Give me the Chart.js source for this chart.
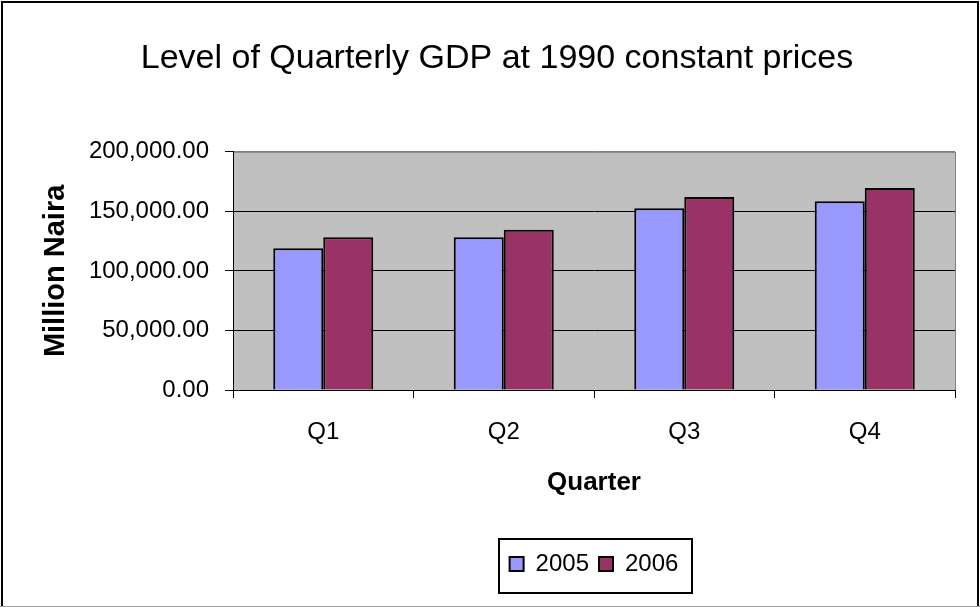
<!DOCTYPE html>
<html>
<head>
<meta charset="utf-8">
<script src="https://cdn.jsdelivr.net/npm/chart.js@4"></script>
<style>
  html, body { margin: 0; padding: 0; background: #fff; }
  #wrap { width: 980px; height: 607px; }
</style>
</head>
<body>
<div id="wrap"><canvas id="graph" width="980" height="607"></canvas></div>
<script>
const quarters = ["Q1", "Q2", "Q3", "Q4"];
const gdp2005 = [119000, 128300, 152600, 158400];
const gdp2006 = [128300, 134500, 162100, 169600];
const seriesNames = ["2005", "2006"];

const FONT = "'Liberation Sans', Arial, sans-serif";

// gray plot area + outer frame, like the old Excel charts
const frame = {
  id: "frame",
  beforeDraw(chart) {
    const { ctx, chartArea: a } = chart;
    ctx.save();
    ctx.fillStyle = "#fff";
    ctx.fillRect(0, 0, chart.width, chart.height);
    ctx.fillStyle = "#c0c0c0";
    ctx.fillRect(a.left, a.top, a.right - a.left, a.bottom - a.top);
    ctx.strokeStyle = "#808080";
    ctx.lineWidth = 1;
    ctx.strokeRect(a.left + 0.5, a.top + 0.5, a.right - a.left, a.bottom - a.top);
    ctx.restore();
  },
  afterDraw(chart) {
    const ctx = chart.ctx;
    ctx.save();
    ctx.strokeStyle = "#000";
    ctx.lineWidth = 2;
    ctx.beginPath();
    ctx.moveTo(2, chart.height);
    ctx.lineTo(2, 2);
    ctx.lineTo(chart.width - 2, 2);
    ctx.lineTo(chart.width - 2, chart.height);
    ctx.stroke();
    ctx.strokeStyle = "#a0a0a0";
    ctx.lineWidth = 1;
    ctx.beginPath();
    ctx.moveTo(0, chart.height - 0.5);
    ctx.lineTo(chart.width, chart.height - 0.5);
    ctx.stroke();

    // box round the legend
    const boxes = chart.legend.legendHitBoxes;
    if (boxes && boxes.length) {
      const l = Math.min(...boxes.map(b => b.left)) - 11;
      const r = Math.max(...boxes.map(b => b.left + b.width)) + 13;
      const mid = boxes[0].top + boxes[0].height / 2;
      ctx.strokeStyle = "#000";
      ctx.lineWidth = 2;
      ctx.strokeRect(Math.round(l), Math.round(mid - 25), Math.round(r - l), 54);
    }
    ctx.restore();
  }
};

function init() {
  const ctx = document.getElementById("graph").getContext("2d");

  const config = {
    type: "bar",
    data: {
      labels: quarters,
      datasets: [{
        label: seriesNames[0],
        data: gdp2005,
        backgroundColor: "#9999ff",
        borderColor: "#000",
        borderWidth: 2
      }, {
        label: seriesNames[1],
        data: gdp2006,
        backgroundColor: "#993366",
        borderColor: "#000",
        borderWidth: 2
      }]
    },
    options: {
      responsive: false,
      animation: false,
      layout: { padding: { left: 39, right: 25, top: 0, bottom: 21 } },
      datasets: {
        bar: { categoryPercentage: 0.554, barPercentage: 1 }
      },
      plugins: {
        title: {
          display: true,
          text: "Level of Quarterly GDP at 1990 constant prices",
          color: "#000",
          font: { family: FONT, size: 34, weight: "normal" },
          padding: { top: 38, bottom: 73 }
        },
        legend: {
          position: "bottom",
          fullSize: false,
          labels: {
            color: "#000",
            font: { family: FONT, size: 24 },
            boxWidth: 14,
            boxHeight: 14,
            padding: 10
          }
        },
        tooltip: { enabled: false }
      },
      scales: {
        x: {
          grid: {
            display: true,
            drawOnChartArea: false,
            drawTicks: true,
            tickLength: 8,
            offset: true,
            color: "#000"
          },
          border: { display: true, color: "#000", width: 1 },
          ticks: {
            color: "#000",
            font: { family: FONT, size: 24 },
            padding: 20
          },
          title: {
            display: true,
            text: "Quarter",
            color: "#000",
            font: { family: FONT, size: 26, weight: "bold" },
            padding: { top: 0, bottom: 44 }
          }
        },
        y: {
          min: 0,
          max: 200000,
          ticks: {
            stepSize: 50000,
            color: "#000",
            font: { family: FONT, size: 24 },
            padding: 16,
            callback: v => v.toLocaleString("en-US", { minimumFractionDigits: 2, maximumFractionDigits: 2 })
          },
          grid: {
            color: c => (c.tick && c.tick.value === 200000 ? "#808080" : "#000"),
            tickColor: "#000",
            tickLength: 8,
            lineWidth: 1
          },
          border: { display: true, color: "#000", width: 1 },
          title: {
            display: true,
            text: "Million Naira",
            color: "#000",
            font: { family: FONT, size: 29, weight: "bold" },
            padding: 0
          },
          afterFit(scale) { scale.width = 194; }
        }
      }
    },
    plugins: [frame]
  };

  return new Chart(ctx, config);
}

window.onload = function () {
  init();
};
</script>
</body>
</html>
